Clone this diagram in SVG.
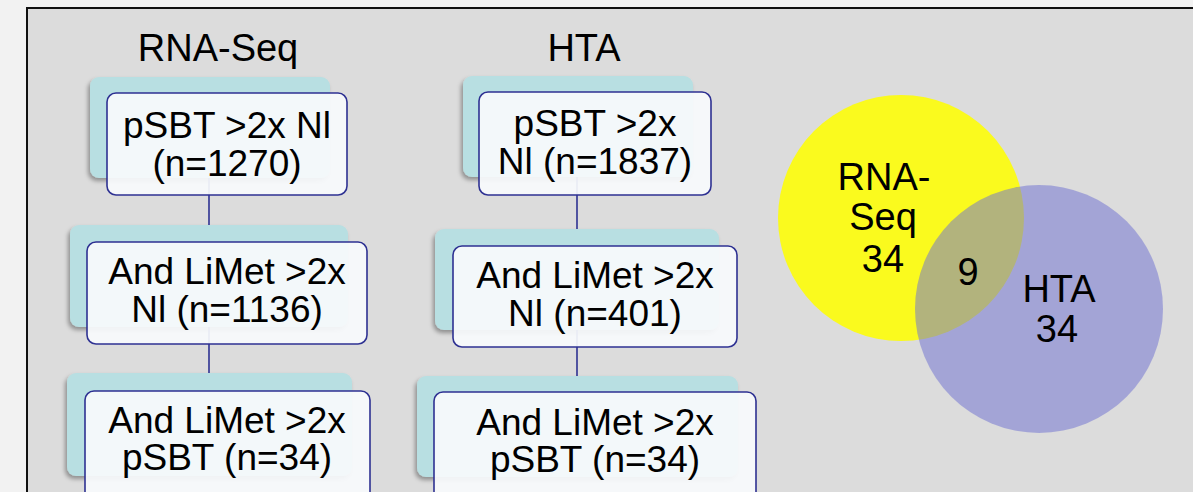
<svg xmlns="http://www.w3.org/2000/svg" width="1193" height="492" viewBox="0 0 1193 492">
  <defs>
    <filter id="shadow" x="-10%" y="-10%" width="120%" height="130%">
      <feDropShadow dx="-2" dy="3" stdDeviation="2" flood-color="#000" flood-opacity="0.35"/>
    </filter>
  </defs>
  <style>
    .label { font-family: "Liberation Sans", Arial, sans-serif; fill: #000; text-anchor: middle; }
    .title { font-size: 38px; }
    .box-text { font-size: 37px; }
    .venn-text { font-size: 38px; }
    .back { fill: #b8dfe2; filter: url(#shadow); }
    .front { fill: #f7fafc; fill-opacity: 0.93; stroke: #2e3192; stroke-width: 1.6; }
    .link { stroke: #2e3192; stroke-width: 1.6; fill: none; }
  </style>

  <!-- page and panel -->
  <rect x="0" y="0" width="1193" height="492" fill="#f2f2f2"/>
  <rect x="27" y="8" width="1200" height="520" fill="#dcdcdc" stroke="#111" stroke-width="2"/>

  <!-- column headings -->
  <text class="label title" x="218" y="61">RNA-Seq</text>
  <text class="label title" x="584" y="61">HTA</text>

  <!-- back cards -->
  <g id="back-cards">
    <rect class="back" x="90" y="77" width="240" height="101" rx="9"/>
    <rect class="back" x="70" y="225" width="278" height="102" rx="9"/>
    <rect class="back" x="67" y="373" width="285" height="103" rx="9"/>
    <rect class="back" x="463" y="76" width="230" height="101" rx="9"/>
    <rect class="back" x="435" y="229" width="284" height="101" rx="9"/>
    <rect class="back" x="417" y="376" width="321" height="101" rx="9"/>
  </g>

  <!-- connectors -->
  <g id="connectors">
    <line class="link" x1="209" y1="178" x2="209" y2="225"/>
    <line class="link" x1="209" y1="327" x2="209" y2="373"/>
    <line class="link" x1="577" y1="177" x2="577" y2="229"/>
    <line class="link" x1="577" y1="330" x2="577" y2="376"/>
  </g>

  <!-- RNA-Seq filter steps -->
  <g id="rna-step1">
    <rect class="front" x="107" y="93" width="240" height="102" rx="9"/>
    <text class="label box-text" x="227" y="138">pSBT &gt;2x Nl</text>
    <text class="label box-text" x="227" y="176">(n=1270)</text>
  </g>
  <g id="rna-step2">
    <rect class="front" x="87" y="242" width="280" height="102" rx="9"/>
    <text class="label box-text" x="227" y="284">And LiMet &gt;2x</text>
    <text class="label box-text" x="227" y="322">Nl (n=1136)</text>
  </g>
  <g id="rna-step3">
    <rect class="front" x="85" y="391" width="285" height="110" rx="9"/>
    <text class="label box-text" x="227" y="433">And LiMet &gt;2x</text>
    <text class="label box-text" x="227" y="470">pSBT (n=34)</text>
  </g>

  <!-- HTA filter steps -->
  <g id="hta-step1">
    <rect class="front" x="479" y="92" width="232" height="103" rx="9"/>
    <text class="label box-text" x="595" y="136">pSBT &gt;2x</text>
    <text class="label box-text" x="595" y="174">Nl (n=1837)</text>
  </g>
  <g id="hta-step2">
    <rect class="front" x="453" y="246" width="284" height="101" rx="9"/>
    <text class="label box-text" x="595" y="288">And LiMet &gt;2x</text>
    <text class="label box-text" x="595" y="326">Nl (n=401)</text>
  </g>
  <g id="hta-step3">
    <rect class="front" x="434" y="392" width="322" height="110" rx="9"/>
    <text class="label box-text" x="595" y="435">And LiMet &gt;2x</text>
    <text class="label box-text" x="595" y="472">pSBT (n=34)</text>
  </g>

  <!-- Venn diagram -->
  <g id="venn-rna">
    <circle cx="901" cy="218" r="123" fill="#fafa1e"/>
    <text class="label venn-text" x="884" y="190">RNA-</text>
    <text class="label venn-text" x="883" y="230">Seq</text>
    <text class="label venn-text" x="883" y="272">34</text>
  </g>
  <g id="venn-hta">
    <circle cx="1039" cy="309" r="124" fill="#7173d1" fill-opacity="0.53"/>
    <text class="label venn-text" x="1059" y="302">HTA</text>
    <text class="label venn-text" x="1057" y="342">34</text>
  </g>
  <g id="venn-overlap">
    <text class="label venn-text" x="968" y="285">9</text>
  </g>
</svg>
